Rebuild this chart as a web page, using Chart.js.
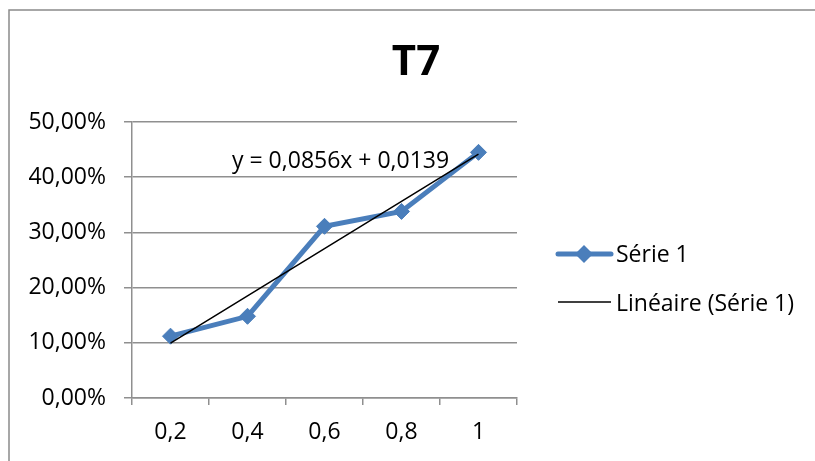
<!DOCTYPE html>
<html>
<head>
<meta charset="utf-8">
<script src="https://cdn.jsdelivr.net/npm/chart.js@4/dist/chart.umd.min.js"></script>
<style>
  html, body { margin: 0; padding: 0; background: #fff; }
  #wrap { width: 815px; height: 461px; }
</style>
</head>
<body>
<div id="wrap"><canvas id="c" width="815" height="461"></canvas></div>
<script>
// Chart content
const titleText = 'T7';
const categories = ['0,2', '0,4', '0,6', '0,8', '1'];
const serieValues = [0.112, 0.148, 0.311, 0.338, 0.445];
const seriesName = 'Série 1';
const trendName = 'Linéaire (Série 1)';
// Linear trendline y = a*x + b, x being the category rank (1..n)
const trendSlope = 0.0856;
const trendIntercept = 0.0139;
const equationText = 'y = 0,0856x + 0,0139';
const yMin = 0, yMax = 0.5, yStep = 0.1;

const trendValues = categories.map((_, i) => trendSlope * (i + 1) + trendIntercept);

const FONT = "'Open Sans', 'Noto Sans', sans-serif";
const BLUE = '#4a7ebb';
const GRID = '#8f8f8f';

function pct(v) {
  return (v * 100).toFixed(2).replace('.', ',') + '%';
}

// Frame, title, trend equation and legend
const decorations = {
  id: 'decorations',
  beforeDraw(chart) {
    const ctx = chart.ctx;
    ctx.save();
    ctx.fillStyle = '#fff';
    ctx.fillRect(0, 0, chart.width, chart.height);
    ctx.strokeStyle = '#8a8a8a';
    ctx.lineWidth = 1.5;
    ctx.strokeRect(9, 10, chart.width + 20, chart.height + 20);
    ctx.restore();
  },
  afterDraw(chart) {
    const ctx = chart.ctx;
    const area = chart.chartArea;
    ctx.save();
    // title
    ctx.fillStyle = '#000';
    ctx.font = "bold 42px " + FONT;
    ctx.textAlign = 'center';
    ctx.textBaseline = 'alphabetic';
    ctx.fillText(titleText, 416, 75);

    // trendline equation
    ctx.font = "23px " + FONT;
    ctx.textAlign = 'left';
    ctx.fillText(equationText, area.left + 100, 168);

    // legend
    const ds = chart.data.datasets;
    const serie = ds.find(d => d.label === seriesName);
    const trend = ds.find(d => d.label === trendName);
    const lx = 556, tx = 616;
    // series entry: thick line with a diamond marker
    ctx.strokeStyle = serie.borderColor;
    ctx.lineWidth = serie.borderWidth;
    ctx.lineCap = 'round';
    ctx.beginPath();
    ctx.moveTo(lx + 2, 254);
    ctx.lineTo(lx + 55, 254);
    ctx.stroke();
    ctx.fillStyle = serie.pointBackgroundColor;
    ctx.beginPath();
    ctx.moveTo(lx + 28, 254 - 9);
    ctx.lineTo(lx + 37, 254);
    ctx.lineTo(lx + 28, 254 + 9);
    ctx.lineTo(lx + 19, 254);
    ctx.closePath();
    ctx.fill();
    ctx.fillStyle = '#000';
    ctx.font = "23px " + FONT;
    ctx.fillText(seriesName, tx, 262);
    // trend entry: thin black line
    ctx.strokeStyle = trend.borderColor;
    ctx.lineWidth = trend.borderWidth;
    ctx.lineCap = 'butt';
    ctx.beginPath();
    ctx.moveTo(lx + 2, 302);
    ctx.lineTo(lx + 55, 302);
    ctx.stroke();
    ctx.fillText(trendName, tx, 311);
    ctx.restore();
  }
};

new Chart(document.getElementById('c'), {
  type: 'line',
  data: {
    labels: categories,
    datasets: [
      {
        label: trendName,
        data: trendValues,
        borderColor: '#000',
        borderWidth: 1.5,
        pointRadius: 0,
        pointHoverRadius: 0,
        fill: false,
        tension: 0,
        order: 0
      },
      {
        label: seriesName,
        data: serieValues,
        borderColor: BLUE,
        backgroundColor: BLUE,
        borderWidth: 5,
        pointStyle: 'rectRot',
        pointRadius: 8,
        pointBorderWidth: 1,
        pointBackgroundColor: BLUE,
        pointBorderColor: BLUE,
        fill: false,
        tension: 0,
        order: 1
      }
    ]
  },
  options: {
    responsive: false,
    devicePixelRatio: 1,
    animation: false,
    layout: { padding: { top: 122, right: 298, bottom: 0, left: 0 } },
    plugins: {
      legend: { display: false },
      title: { display: false },
      tooltip: { enabled: false }
    },
    scales: {
      x: {
        type: 'category',
        offset: true,
        afterFit(scale) { scale.height = 63; },
        grid: {
          offset: true,
          drawOnChartArea: false,
          drawTicks: true,
          tickLength: 7,
          color: GRID,
          lineWidth: 1.5
        },
        border: { display: true, color: GRID, width: 1.5 },
        ticks: {
          color: '#000',
          font: { family: FONT, size: 23 },
          padding: 14,
          maxRotation: 0
        }
      },
      y: {
        min: yMin,
        max: yMax,
        afterFit(scale) { scale.width = 132; },
        grid: {
          drawTicks: true,
          tickLength: 8,
          color: GRID,
          lineWidth: 1.5
        },
        border: { display: true, color: GRID, width: 1.5 },
        ticks: {
          stepSize: yStep,
          color: '#000',
          font: { family: FONT, size: 23 },
          padding: 18,
          callback: (v) => pct(v)
        }
      }
    }
  },
  plugins: [decorations]
});
</script>
</body>
</html>
